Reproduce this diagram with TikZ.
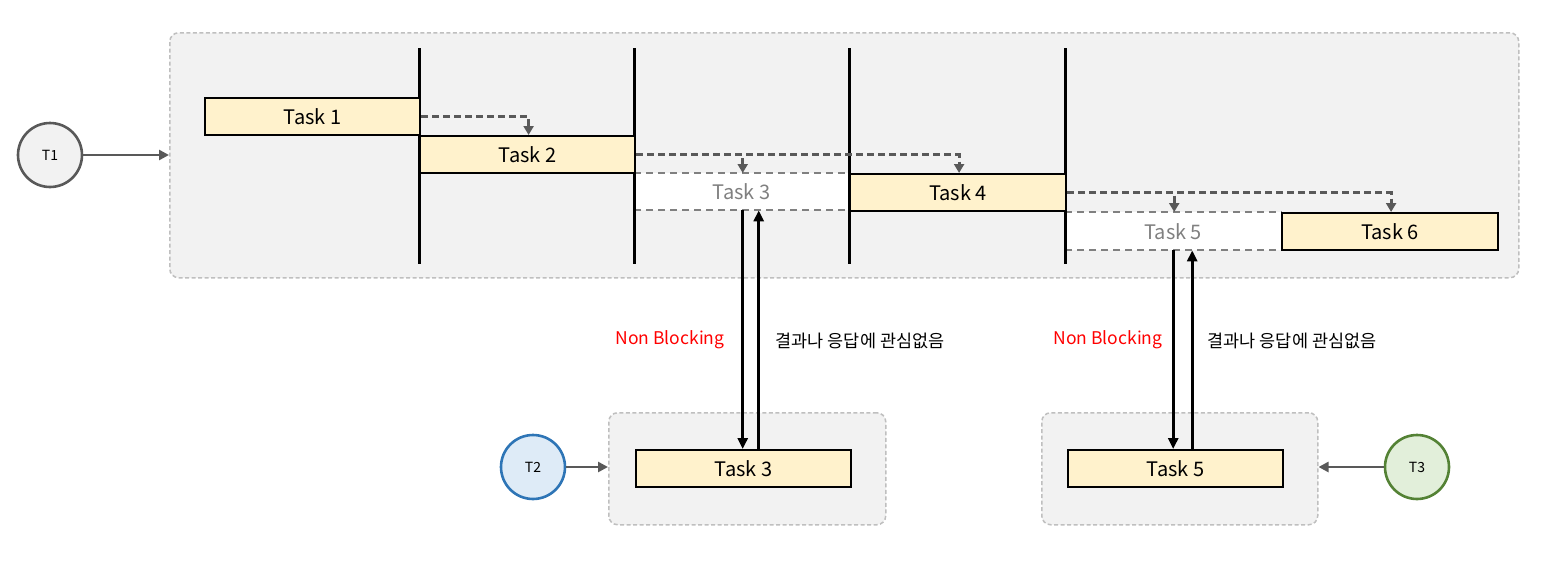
\documentclass[tikz,border=0pt]{standalone}
\usepackage{fontspec}
\setmainfont{Noto Sans CJK KR}
\usetikzlibrary{arrows.meta}
\definecolor{taskfill}{HTML}{FFF2CC}
\definecolor{boxfill}{HTML}{F2F2F2}
\definecolor{boxline}{HTML}{BFBFBF}
\definecolor{darkgray}{HTML}{595959}
\definecolor{ghostgray}{HTML}{808080}
\definecolor{tblue}{HTML}{DEEBF7}
\definecolor{tblueline}{HTML}{2E75B6}
\definecolor{tgreen}{HTML}{E2EFDA}
\definecolor{tgreenline}{HTML}{548235}
\definecolor{nbred}{HTML}{FF0000}
\tikzset{
  container/.style={draw=boxline, fill=boxfill, dash pattern=on 4 off 2.5, line width=1.5, rounded corners=9, inner sep=0, anchor=north west},
  taskbox/.style={draw=black, fill=taskfill, line width=2.2, minimum width=215, minimum height=37, inner sep=0, anchor=north west, font=\fontsize{20}{24}\selectfont},
  ghost/.style={fill=white, minimum width=215, minimum height=37, inner sep=0, anchor=north west, text=ghostgray, font=\fontsize{20}{24}\selectfont},
  ghostline/.style={draw=ghostgray, dash pattern=on 7 off 5, line width=2},
  thread/.style={circle, line width=2.6, minimum size=64, inner sep=0, font=\fontsize{14}{16}\selectfont},
  grayarrow/.style={draw=darkgray, line width=2.6, -{Triangle[length=10,width=10]}},
  dasharrow/.style={draw=darkgray, line width=3.2, dash pattern=on 7 off 4, -{Triangle[length=9,width=10]}},
  callarrow/.style={draw=black, line width=2.8, -{Triangle[length=11,width=10]}},
  divider/.style={draw=black, line width=3},
  lbl/.style={font=\fontsize{17.5}{20}\selectfont, inner sep=0}
}
\begin{document}
\begin{tikzpicture}[x=1pt,y=-1pt]
\useasboundingbox (0,0) rectangle (1543,562);
% containers
\node[container, minimum width=1349, minimum height=245] (c1) at (169,32) {};
\node[container, minimum width=277, minimum height=112] (c2) at (608,412) {};
\node[container, minimum width=276, minimum height=112] (c3) at (1041,412) {};
% ghost tasks
\node[ghost] (g3) at (634,173) {Task 3};
\node[ghost, minimum width=216, minimum height=38] (g5) at (1065,212) {Task 5};
\draw[ghostline] (g3.north west) -- (g3.north east);
\draw[ghostline] (g3.south west) -- (g3.south east);
\draw[ghostline] (g5.north west) -- (g5.north east);
\draw[ghostline] (g5.south west) -- (g5.south east);
% dividers
\coordinate (d1t) at (419,48); \coordinate (d1b) at (419,264);
\coordinate (d2t) at (634,48); \coordinate (d2b) at (634,264);
\coordinate (d3t) at (849,48); \coordinate (d3b) at (849,264);
\coordinate (d4t) at (1065,48); \coordinate (d4b) at (1065,264);
\draw[divider] (d1t) -- (d1b);
\draw[divider] (d2t) -- (d2b);
\draw[divider] (d3t) -- (d3b);
\draw[divider] (d4t) -- (d4b);
% tasks
\node[taskbox] (t1) at (204,97) {Task 1};
\node[taskbox] (t2) at (419,135) {Task 2};
\node[taskbox, minimum width=216] (t4) at (849,173) {Task 4};
\node[taskbox, minimum width=216] (t6) at (1281,212) {Task 6};
\node[taskbox] (b3) at (635,449) {Task 3};
\node[taskbox] (b5) at (1067,449) {Task 5};
% threads
\node[thread, draw=darkgray, fill=boxfill] (T1) at (50,155) {T1};
\node[thread, draw=tblueline, fill=tblue] (T2) at (533,467) {T2};
\node[thread, draw=tgreenline, fill=tgreen] (T3) at (1417,467) {T3};
\draw[grayarrow] (T1.east) -- (c1.west |- T1.east);
\draw[grayarrow] (T2.east) -- (c2.west |- T2.east);
\draw[grayarrow] (T3.west) -- (c3.east |- T3.west);
% dashed flow arrows
\draw[dasharrow] (t1.east) -| ([xshift=1]t2.north);
\draw[dasharrow] (t2.east) -| ([xshift=1]g3.north);
\draw[dasharrow] (t2.east) -| ([xshift=1]t4.north);
\draw[dasharrow] (t4.east) -| ([xshift=1]g5.north);
\draw[dasharrow] (t4.east) -| ([xshift=1]t6.north);
% calls
\draw[callarrow] ([xshift=1]g3.south) -- ([xshift=1]g3.south |- b3.north);
\draw[callarrow] ([xshift=17]g3.south |- b3.north) -- ([xshift=17]g3.south);
\draw[callarrow] ([xshift=0]g5.south) -- ([xshift=0]g5.south |- b5.north);
\draw[callarrow] ([xshift=19]g5.south |- b5.north) -- ([xshift=19]g5.south);
% labels
\node[lbl, text=nbred] (nb1) at (670,340) {Non Blocking};
\node[lbl] (k1) at (860,341) {결과나 응답에 관심없음};
\node[lbl, text=nbred] (nb2) at (1108,340) {Non Blocking};
\node[lbl] (k2) at (1292,341) {결과나 응답에 관심없음};
\end{tikzpicture}
\end{document}
